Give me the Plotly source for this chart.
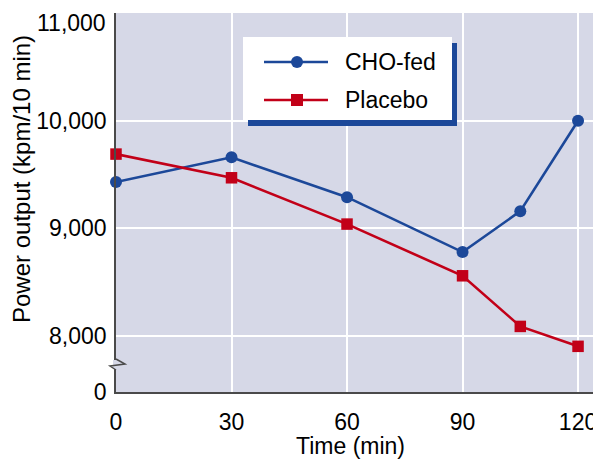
import plotly.graph_objects as go

# ---- data ----
time_cho = [0, 30, 60, 90, 105, 120]
power_cho = [9430, 9660, 9290, 8780, 9160, 10000]
time_placebo = [0, 30, 60, 90, 105, 120]
power_placebo = [9690, 9470, 9040, 8560, 8090, 7905]
series_names = ["CHO-fed", "Placebo"]
x_ticks = [0, 30, 60, 90, 120]
y_break_base = 7481  # axis bottom (broken axis, shown as "0")
y_ticks = [y_break_base, 8000, 9000, 10000, 11000]
y_tick_labels = ["0", "8,000", "9,000", "10,000", "11,000"]
x_title = "Time (min)"
y_title = "Power output (kpm/10 min)"

BLUE = "#1c4899"
RED = "#c20018"
BG = "#d6d8e7"
AXIS = "#4a4a4a"
FONT = "Liberation Sans, Arial, Helvetica, sans-serif"

OFF = 8  # page body margin
W, H = 601 - OFF, 461 - OFF
L, R, T, B = 116 - OFF, 1, 13 - OFF, 69
pw, ph = W - L - R, H - T - B


def px(xp):  # page pixel -> paper
    return (xp - OFF - L) / pw


def py(yp):
    return (H - B - (yp - OFF)) / ph


fig = go.Figure()
fig.add_trace(go.Scatter(
    x=time_cho, y=power_cho, name=series_names[0], mode="lines+markers",
    line=dict(color=BLUE, width=2.6), marker=dict(symbol="circle", size=12, color=BLUE),
    showlegend=False, cliponaxis=False))
fig.add_trace(go.Scatter(
    x=time_placebo, y=power_placebo, name=series_names[1], mode="lines+markers",
    line=dict(color=RED, width=2.6), marker=dict(symbol="square", size=11.5, color=RED),
    showlegend=False, cliponaxis=False))

shapes = []
# axis break zigzag on the y axis
shapes.append(dict(type="rect", xref="paper", yref="paper",
                   x0=px(113), x1=px(119), y0=py(369), y1=py(360),
                   fillcolor=BG, line=dict(width=0), layer="above"))
shapes.append(dict(type="path", xref="paper", yref="paper",
                   path=f"M{px(116)},{py(359)} L{px(125)},{py(364)} L{px(110)},{py(366)} L{px(116)},{py(370)}",
                   line=dict(color=AXIS, width=1.5), layer="above"))

# legend box with shadow
shapes.append(dict(type="rect", xref="paper", yref="paper",
                   x0=px(248), x1=px(457), y0=py(126), y1=py(43),
                   fillcolor=BLUE, line=dict(width=0), layer="above"))
shapes.append(dict(type="rect", xref="paper", yref="paper",
                   x0=px(243), x1=px(452), y0=py(120), y1=py(37),
                   fillcolor="white", line=dict(width=0), layer="above"))
for yy, col, sym in [(62, BLUE, "circle"), (100, RED, "square")]:
    shapes.append(dict(type="line", xref="paper", yref="paper",
                       x0=px(264), x1=px(328), y0=py(yy), y1=py(yy),
                       line=dict(color=col, width=2.6), layer="above"))
    if sym == "circle":
        shapes.append(dict(type="circle", xref="paper", yref="paper",
                           x0=px(291), x1=px(303), y0=py(yy + 6), y1=py(yy - 6),
                           fillcolor=col, line=dict(width=0), layer="above"))
    else:
        shapes.append(dict(type="rect", xref="paper", yref="paper",
                           x0=px(291), x1=px(303), y0=py(yy + 6), y1=py(yy - 6),
                           fillcolor=col, line=dict(width=0), layer="above"))

annotations = []
for yy, name in [(62, series_names[0]), (100, series_names[1])]:
    annotations.append(dict(text=name, xref="paper", yref="paper", x=px(343), y=py(yy),
                            xanchor="left", yanchor="middle", showarrow=False,
                            font=dict(family=FONT, size=23, color="black")))
# axis titles
annotations.append(dict(text=x_title, xref="paper", yref="paper", x=px(350), y=py(446),
                        xanchor="center", yanchor="middle", showarrow=False,
                        font=dict(family=FONT, size=23, color="black")))
annotations.append(dict(text=y_title, xref="paper", yref="paper", x=px(22), y=py(179),
                        xanchor="center", yanchor="middle", showarrow=False, textangle=-90,
                        font=dict(family=FONT, size=24, color="black")))
# top tick label placed slightly lower so it is not clipped at the page edge
annotations.append(dict(text=y_tick_labels[-1], xref="paper", yref="paper", x=px(108), y=py(8),
                        xanchor="right", yanchor="top", showarrow=False,
                        font=dict(family=FONT, size=23, color="black")))
shown_y_labels = y_tick_labels[:-1] + [""]

fig.update_layout(
    width=W, height=H,
    margin=dict(l=L, r=R, t=T, b=B, autoexpand=False),
    paper_bgcolor="white", plot_bgcolor=BG,
    font=dict(family=FONT, size=23, color="black"),
    shapes=shapes, annotations=annotations,
    xaxis=dict(range=[0, 125.7], tickvals=x_ticks, ticktext=[str(v) for v in x_ticks],
               showgrid=True, gridcolor="white", gridwidth=2, automargin=False,
               showline=True, linecolor=AXIS, linewidth=1.5, zeroline=False,
               ticks="", ticklabelstandoff=9, ticklabeloverflow="allow"),
    yaxis=dict(range=[y_break_base, 11000], tickvals=y_ticks, ticktext=shown_y_labels,
               showgrid=True, gridcolor="white", gridwidth=2, automargin=False,
               showline=True, linecolor=AXIS, linewidth=1.5, zeroline=False,
               ticks="", ticklabelstandoff=3, ticklabeloverflow="allow"),
)

fig.write_html("out.html")
